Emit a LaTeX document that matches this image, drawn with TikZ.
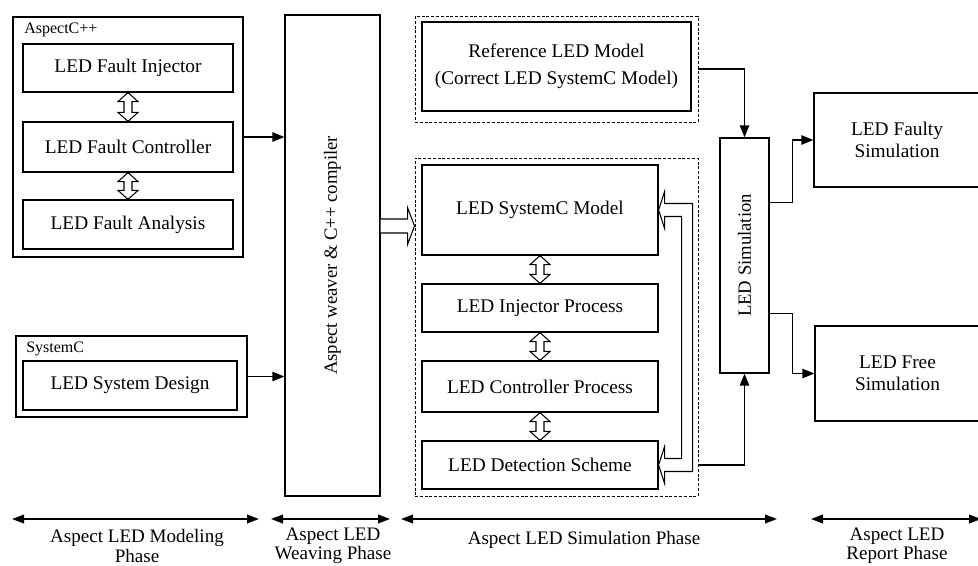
\documentclass[tikz,border=0pt]{standalone}
\usepackage{fontspec}
\setmainfont{Liberation Serif}
\usetikzlibrary{arrows.meta,fit,calc}
\def\U{0.75pt}
\newcommand{\vdarr}[3][0]{%
  \path[hollow, xshift=#1*0.75pt] let \p1=#2, \p2=#3 in
  (\x1,\y1) -- (\x1+10*\U,\y1-9*\U) -- (\x1+4*\U,\y1-9*\U) -- (\x1+4*\U,\y2+9*\U)
  -- (\x1+10*\U,\y2+9*\U) -- (\x1,\y2) -- (\x1-10*\U,\y2+9*\U) -- (\x1-4*\U,\y2+9*\U)
  -- (\x1-4*\U,\y1-9*\U) -- (\x1-10*\U,\y1-9*\U) -- cycle;}
\begin{document}
\begin{tikzpicture}[x=0.75pt,y=-0.75pt,
  box/.style={draw, line width=0.9pt, inner sep=0pt},
  btext/.style={align=center, inner sep=0pt, font=\fontsize{14.5}{17}\selectfont},
  cont/.style={draw, line width=0.8pt, inner sep=0pt},
  dbox/.style={draw, dash pattern=on 2.2pt off 1.4pt, line width=0.7pt, inner sep=0pt},
  conn/.style={line width=1pt, -{Triangle[length=9pt,width=7pt]}},
  hollow/.style={draw, line width=0.8pt, fill=white, line join=miter},
  phase/.style={line width=1.3pt, {Triangle[length=9pt,width=6.5pt]}-{Triangle[length=9pt,width=6.5pt]}},
  plabel/.style={align=center, font=\fontsize{14.3}{14.5}\selectfont, inner sep=0pt},
  small/.style={font=\fontsize{12}{14}\selectfont, inner sep=0pt, anchor=west},
  rot/.style={rotate=90, font=\fontsize{14}{16}\selectfont, inner sep=0pt}
]
\useasboundingbox (0,0) rectangle (978,565);

% modeling phase
\node[cont, fit={(13,17) (243,257)}] (aspc) {};
\node[small] (aspl) at (24,30) {AspectC++};
\node[box, fit={(23,44) (233,92)}] (inj) {};
\node[btext] (injT) at (inj.center) {LED Fault Injector};
\node[box, fit={(23,122) (233,172)}] (ctrl) {};
\node[btext] (ctrlT) at (ctrl.center) {LED Fault Controller};
\node[box, fit={(23,200) (233,249)}] (ana) {};
\node[btext] (anaT) at (ana.center) {LED Fault Analysis};
\vdarr{(inj.south)}{(ctrl.north)}
\vdarr{(ctrl.south)}{(ana.north)}

\node[cont, fit={(16,336) (247,417)}] (sysc) {};
\node[small] (sysl) at (26,349) {SystemC};
\node[box, fit={(23,361) (237,410)}] (lsd) {};
\node[btext] (lsdT) at (lsd.center) {LED System Design};

% weaving
\node[box, fit={(285,15) (380,496)}] (weaver) {};
\node[rot] (weavtxt) at (weaver.center) {Aspect weaver \& C++ compiler};

\draw[conn] (aspc.east) -- (aspc.east -| weaver.west);
\draw[conn] (sysc.east) -- (sysc.east -| weaver.west);

% simulation
\node[dbox, fit={(415,16) (698,122)}] (refd) {};
\node[box, fit={(422,22) (691,111)}] (ref) {};
\node[btext, font=\fontsize{14.5}{20}\selectfont] (refT) at (ref.center) {Reference LED Model\\(Correct LED SystemC Model)};

\node[dbox, fit={(415,158) (698,496)}] (simd) {};
\node[box, fit={(422,165) (658,255)}] (sysm) {};
\node[btext] (sysmT) at (sysm.center) {LED SystemC Model};
\node[box, fit={(422,284) (658,332)}] (injp) {};
\node[btext] (injpT) at (injp.center) {LED Injector Process};
\node[box, fit={(422,361) (658,412)}] (ctrlp) {};
\node[btext] (ctrlpT) at (ctrlp.center) {LED Controller Process};
\node[box, fit={(422,441) (658,489)}] (det) {};
\node[btext] (detT) at (det.center) {LED Detection Scheme};
\vdarr[-12]{(sysm.south)}{(injp.north)}
\vdarr{(injp.south)}{(ctrlp.north)}
\vdarr{(ctrlp.south)}{(det.north)}

% hollow arrow weaver -> simulation box
\coordinate (hy) at (0,226);
\path[hollow] let \p1=(weaver.east |- hy), \p2=(simd.west |- hy) in
  (\x1,\y1+7*\U) -- (\x2-7*\U,\y1+7*\U) -- (\x2-7*\U,\y1+18.5*\U) -- (\x2,\y1)
  -- (\x2-7*\U,\y1-18.5*\U) -- (\x2-7*\U,\y1-7*\U) -- (\x1,\y1-7*\U);

% hollow feedback U arrow
\path[hollow] let \p1=(sysm.east), \p2=(det.east) in
  (\x1,\y1) -- (\x1+6*\U,\y1+18.5*\U) -- (\x1+6*\U,\y1+6.5*\U) -- (\x1+34*\U,\y1+6.5*\U)
  -- (\x1+34*\U,\y2-6.5*\U) -- (\x1+6*\U,\y2-6.5*\U) -- (\x1+6*\U,\y2-18.5*\U) -- (\x1,\y2)
  -- (\x1+6*\U,\y2+18.5*\U) -- (\x1+6*\U,\y2+6.5*\U) -- (\x1+23*\U,\y2+6.5*\U)
  -- (\x1+23*\U,\y1-6.5*\U) -- (\x1+6*\U,\y1-6.5*\U) -- (\x1+6*\U,\y1-18.5*\U) -- cycle;

% LED simulation
\node[box, fit={(720,138) (769,373)}] (ledsim) {};
\node[rot] (ledsimtxt) at (ledsim.center) {LED Simulation};

\draw[conn] (refd.east) -| (ledsim.north);
\draw[conn] (simd.east |- det.east) -| (ledsim.south);

% report
\node[box, fit={(814,93) (980,187)}] (faulty) {};
\node[btext, font=\fontsize{14.5}{16.5}\selectfont] (faultyT) at (faulty.center) {LED Faulty\\Simulation};
\node[box, fit={(815,326) (980,421)}] (free) {};
\node[btext, font=\fontsize{14.5}{16.5}\selectfont] (freeT) at (free.center) {LED Free\\Simulation};
\coordinate (o1) at ($(ledsim.north east)+(0,65)$);
\coordinate (o2) at ($(ledsim.north east)+(0,176)$);
\draw[conn] (o1) -- ++(23,0) |- (faulty.west);
\draw[conn] (o2) -- ++(23,0) |- (free.west);

% phases
\coordinate (p1a) at (12,519);  \coordinate (p1b) at (259,519);
\coordinate (p2a) at (271,519); \coordinate (p2b) at (390,519);
\coordinate (p3a) at (401,519); \coordinate (p3b) at (777,519);
\coordinate (p4a) at (811,519); \coordinate (p4b) at (981,519);
\draw[phase] (p1a) -- (p1b);
\draw[phase] (p2a) -- (p2b);
\draw[phase] (p3a) -- (p3b);
\draw[phase] (p4a) -- (p4b);
\node[plabel] (l1) at (137,546) {Aspect LED Modeling\\Phase};
\node[plabel] (l2) at (333,546) {Aspect LED\\Weaving Phase};
\node[plabel] (l3) at (584,540) {Aspect LED Simulation Phase};
\node[plabel] (l4) at (897,546) {Aspect LED\\Report Phase};
\end{tikzpicture}
\end{document}
